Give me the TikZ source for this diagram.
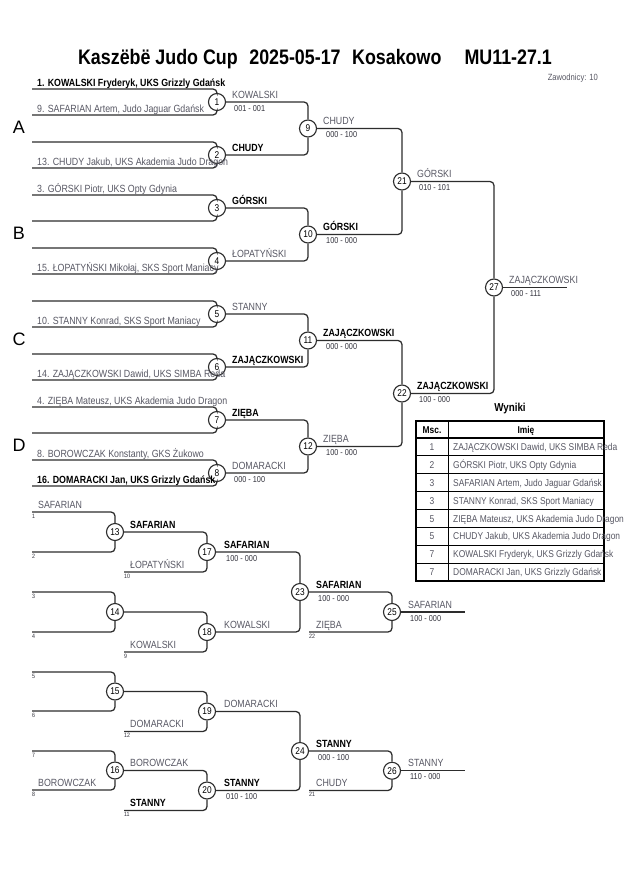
\documentclass[tikz,border=0pt]{standalone}
\usepackage{fontspec}
\setmainfont[FakeStretch=0.85]{Liberation Sans}
\newfontfamily\widesf{Liberation Sans}
\newcommand\myfs[1]{\fontsize{#1bp}{#1bp}\selectfont}
\definecolor{linec}{RGB}{45,45,45}
\definecolor{txtg}{RGB}{88,88,100}
\definecolor{scc}{RGB}{50,50,60}
\tikzset{
  ln/.style={draw=linec, line width=1.25bp, rounded corners=4bp},
  mc/.style={circle, draw=linec, line width=1.1bp, fill=white, minimum size=17bp, inner sep=0pt, font=\myfs{9.8}},
  nm/.style={anchor=base west, inner sep=0pt, text=txtg, font=\myfs{10.4}},
  nb/.style={anchor=base west, inner sep=0pt, text=black, font=\myfs{10.4}\bfseries},
  sc/.style={anchor=base west, inner sep=0pt, text=scc, font=\myfs{8.6}},
  smn/.style={anchor=base west, inner sep=0pt, text=scc, font=\myfs{6.2}},
  big/.style={inner sep=0pt, font=\widesf\myfs{18}},
  tb/.style={anchor=base west, inner sep=0pt, text=txtg, font=\myfs{9.9}},
  tn/.style={anchor=base, inner sep=0pt, text=txtg, font=\myfs{9.9}},
  th/.style={anchor=base, inner sep=0pt, text=black, font=\myfs{9.9}\bfseries},
}
\begin{document}
\begin{tikzpicture}[x=1bp,y=-1bp]
\useasboundingbox (0,0) rectangle (630,891);
\fill[white] (0,0) rectangle (630,891);

% title
\node[anchor=base, inner sep=0pt, font=\myfs{21}\bfseries] (title) at (315,64) {Kaszëbë Judo Cup\hspace{0.55em}2025-05-17\hspace{0.55em}Kosakowo\hspace{1.1em}MU11-27.1};
\node[anchor=base east, inner sep=0pt, text=txtg, font=\myfs{9}] (zaw) at (598,80) {Zawodnicy: 10};

% pool letters
\node[big] (lA) at (19,127) {A};
\node[big] (lB) at (19,233) {B};
\node[big] (lC) at (19,339) {C};
\node[big] (lD) at (19,445) {D};

% ===== main bracket circles =====
\node[mc] (m1) at (217,102) {1};
\node[mc] (m2) at (217,155) {2};
\node[mc] (m3) at (217,208) {3};
\node[mc] (m4) at (217,261) {4};
\node[mc] (m5) at (217,314) {5};
\node[mc] (m6) at (217,367) {6};
\node[mc] (m7) at (217,420) {7};
\node[mc] (m8) at (217,473) {8};
\node[mc] (m9) at (308,128.5) {9};
\node[mc] (m10) at (308,234.5) {10};
\node[mc] (m11) at (308,340.5) {11};
\node[mc] (m12) at (308,446.5) {12};
\node[mc] (m21) at (402,181.5) {21};
\node[mc] (m22) at (402,393.5) {22};
\node[mc] (m27) at (494,287.5) {27};
\coordinate (f27) at (567,287.5);

% entry lines
\foreach \k/\c in {1/102,2/155,3/208,4/261,5/314,6/367,7/420,8/473}{
  \coordinate (e\k a) at (32,\c-13);
  \coordinate (e\k b) at (32,\c+13);
  \draw[ln] (e\k a) -| (m\k);
  \draw[ln] (e\k b) -| (m\k);
}
\draw[ln] (m1) -| (m9);  \draw[ln] (m2) -| (m9);
\draw[ln] (m3) -| (m10); \draw[ln] (m4) -| (m10);
\draw[ln] (m5) -| (m11); \draw[ln] (m6) -| (m11);
\draw[ln] (m7) -| (m12); \draw[ln] (m8) -| (m12);
\draw[ln] (m9) -| (m21); \draw[ln] (m10) -| (m21);
\draw[ln] (m11) -| (m22); \draw[ln] (m12) -| (m22);
\draw[ln] (m21) -| (m27); \draw[ln] (m22) -| (m27);
\draw[ln] (m27) -- (f27);

% entry names
\node[nb] (n1a) at (37,86) {1. KOWALSKI Fryderyk, UKS Grizzly Gdańsk};
\node[nm] (n1b) at (37,112) {9. SAFARIAN Artem, Judo Jaguar Gdańsk};
\node[nm] (n2b) at (37,165) {13. CHUDY Jakub, UKS Akademia Judo Dragon};
\node[nm] (n3a) at (37,192) {3. GÓRSKI Piotr, UKS Opty Gdynia};
\node[nm] (n4b) at (37,271) {15. ŁOPATYŃSKI Mikołaj, SKS Sport Maniacy};
\node[nm] (n5b) at (37,324) {10. STANNY Konrad, SKS Sport Maniacy};
\node[nm] (n6b) at (37,377) {14. ZAJĄCZKOWSKI Dawid, UKS SIMBA Reda};
\node[nm] (n7a) at (37,404) {4. ZIĘBA Mateusz, UKS Akademia Judo Dragon};
\node[nm] (n8a) at (37,457) {8. BOROWCZAK Konstanty, GKS Żukowo};
\node[nb] (n8b) at (37,483) {16. DOMARACKI Jan, UKS Grizzly Gdańsk};

% outputs
\node[nm] (o1) at (232,98) {KOWALSKI};   \node[sc] (s1) at (234,111) {001 - 001};
\node[nb] (o2) at (232,151) {CHUDY};
\node[nb] (o3) at (232,204) {GÓRSKI};
\node[nm] (o4) at (232,257) {ŁOPATYŃSKI};
\node[nm] (o5) at (232,310) {STANNY};
\node[nb] (o6) at (232,363) {ZAJĄCZKOWSKI};
\node[nb] (o7) at (232,416) {ZIĘBA};
\node[nm] (o8) at (232,469) {DOMARACKI};  \node[sc] (s8) at (234,482) {000 - 100};
\node[nm] (o9) at (323,124.5) {CHUDY};    \node[sc] (s9) at (326,137.5) {000 - 100};
\node[nb] (o10) at (323,230.5) {GÓRSKI};  \node[sc] (s10) at (326,243.5) {100 - 000};
\node[nb] (o11) at (323,336.5) {ZAJĄCZKOWSKI}; \node[sc] (s11) at (326,349.5) {000 - 000};
\node[nm] (o12) at (323,442.5) {ZIĘBA};   \node[sc] (s12) at (326,455.5) {100 - 000};
\node[nm] (o21) at (417,177.5) {GÓRSKI};  \node[sc] (s21) at (419,190.5) {010 - 101};
\node[nb] (o22) at (417,389.5) {ZAJĄCZKOWSKI}; \node[sc] (s22) at (419,402.5) {100 - 000};
\node[nm] (o27) at (509,283.5) {ZAJĄCZKOWSKI}; \node[sc] (s27) at (511,296.5) {000 - 111};

% ===== results table =====
\node[anchor=base, inner sep=0pt, font=\myfs{11.5}\bfseries] (wyn) at (510,411) {Wyniki};
\foreach \i in {1,...,7}{
  \draw[draw=black, line width=0.9bp] (416,{438+17.875*\i}) -- (604,{438+17.875*\i});
}
\draw[draw=black, line width=1.2bp] (416,438) -- (604,438);
\draw[draw=black, line width=0.9bp] (448,421) -- (448,581);
\draw[draw=black, line width=1.8bp] (416,421) rectangle (604,581);
\node[th] (hm) at (432,433.5) {Msc.};
\node[th] (hi) at (526,433.5) {Imię};
\foreach \k/\p/\t in {1/1/{ZAJĄCZKOWSKI Dawid, UKS SIMBA Reda},
                      2/2/{GÓRSKI Piotr, UKS Opty Gdynia},
                      3/3/{SAFARIAN Artem, Judo Jaguar Gdańsk},
                      4/3/{STANNY Konrad, SKS Sport Maniacy},
                      5/5/{ZIĘBA Mateusz, UKS Akademia Judo Dragon},
                      6/5/{CHUDY Jakub, UKS Akademia Judo Dragon},
                      7/7/{KOWALSKI Fryderyk, UKS Grizzly Gdańsk},
                      8/7/{DOMARACKI Jan, UKS Grizzly Gdańsk}}{
  \node[tn] (tp\k) at (432,{438+17.875*(\k-0.5)+3.6}) {\p};
  \node[tb] (tt\k) at (453,{438+17.875*(\k-0.5)+3.6}) {\t};
}

% ===== repechage =====
\node[mc] (m13) at (115,532) {13};
\node[mc] (m14) at (115,612) {14};
\node[mc] (m15) at (115,691.5) {15};
\node[mc] (m16) at (115,770.5) {16};
\node[mc] (m17) at (207,552) {17};
\node[mc] (m18) at (207,632) {18};
\node[mc] (m19) at (207,711.5) {19};
\node[mc] (m20) at (207,790.5) {20};
\node[mc] (m23) at (300,592) {23};
\node[mc] (m24) at (300,751) {24};
\node[mc] (m25) at (392,612) {25};
\node[mc] (m26) at (392,770.75) {26};

\coordinate (r1) at (32,512);  \coordinate (r2) at (32,552);
\coordinate (r3) at (32,592);  \coordinate (r4) at (32,632);
\coordinate (r5) at (32,672);  \coordinate (r6) at (32,711);
\coordinate (r7) at (32,751);  \coordinate (r8) at (32,790);
\coordinate (r10) at (124,572); \coordinate (r9) at (124,652);
\coordinate (r12) at (124,731.5); \coordinate (r11) at (124,810.5);
\coordinate (r22) at (309,632); \coordinate (r21) at (309,790.5);
\coordinate (f25) at (465,612); \coordinate (f26) at (465,770.75);

\draw[ln] (r1) -| (m13); \draw[ln] (r2) -| (m13);
\draw[ln] (r3) -| (m14); \draw[ln] (r4) -| (m14);
\draw[ln] (r5) -| (m15); \draw[ln] (r6) -| (m15);
\draw[ln] (r7) -| (m16); \draw[ln] (r8) -| (m16);
\draw[ln] (m13) -| (m17); \draw[ln] (r10) -| (m17);
\draw[ln] (m14) -| (m18); \draw[ln] (r9) -| (m18);
\draw[ln] (m15) -| (m19); \draw[ln] (r12) -| (m19);
\draw[ln] (m16) -| (m20); \draw[ln] (r11) -| (m20);
\draw[ln] (m17) -| (m23); \draw[ln] (m18) -| (m23);
\draw[ln] (m19) -| (m24); \draw[ln] (m20) -| (m24);
\draw[ln] (m23) -| (m25); \draw[ln] (r22) -| (m25);
\draw[ln] (m24) -| (m26); \draw[ln] (r21) -| (m26);
\draw[ln] (m25) -- (f25);
\draw[ln] (m26) -- (f26);

% small seed numbers
\node[smn] (k1) at (32,518) {1};
\node[smn] (k2) at (32,558) {2};
\node[smn] (k3) at (32,598) {3};
\node[smn] (k4) at (32,638) {4};
\node[smn] (k5) at (32,678) {5};
\node[smn] (k6) at (32,717) {6};
\node[smn] (k7) at (32,757) {7};
\node[smn] (k8) at (32,796) {8};
\node[smn] (k10) at (124,578) {10};
\node[smn] (k9) at (124,658) {9};
\node[smn] (k12) at (124,737.5) {12};
\node[smn] (k11) at (124,816.5) {11};
\node[smn] (k22) at (309,638) {22};
\node[smn] (k21) at (309,796.5) {21};

% repechage labels
\node[nm] (q1) at (38,508) {SAFARIAN};
\node[nb] (q13) at (130,528) {SAFARIAN};
\node[nm] (q10) at (130,568) {ŁOPATYŃSKI};
\node[nb] (q17) at (224,548) {SAFARIAN}; \node[sc] (t17) at (226,561) {100 - 000};
\node[nm] (q9) at (130,648) {KOWALSKI};
\node[nm] (q18) at (224,628) {KOWALSKI};
\node[nb] (q23) at (316,588) {SAFARIAN}; \node[sc] (t23) at (318,601) {100 - 000};
\node[nm] (q22) at (316,628) {ZIĘBA};
\node[nm] (q25) at (408,608) {SAFARIAN}; \node[sc] (t25) at (410,621) {100 - 000};
\node[nm] (q12) at (130,727.5) {DOMARACKI};
\node[nm] (q19) at (224,707.5) {DOMARACKI};
\node[nm] (q8) at (38,786) {BOROWCZAK};
\node[nm] (q16) at (130,766.5) {BOROWCZAK};
\node[nb] (q11) at (130,806.5) {STANNY};
\node[nb] (q20) at (224,786.5) {STANNY}; \node[sc] (t20) at (226,799.5) {010 - 100};
\node[nb] (q24) at (316,747) {STANNY}; \node[sc] (t24) at (318,760) {000 - 100};
\node[nm] (q21) at (316,786.5) {CHUDY};
\node[nm] (q26) at (408,766.75) {STANNY}; \node[sc] (t26) at (410,779.75) {110 - 000};
\end{tikzpicture}
\end{document}
